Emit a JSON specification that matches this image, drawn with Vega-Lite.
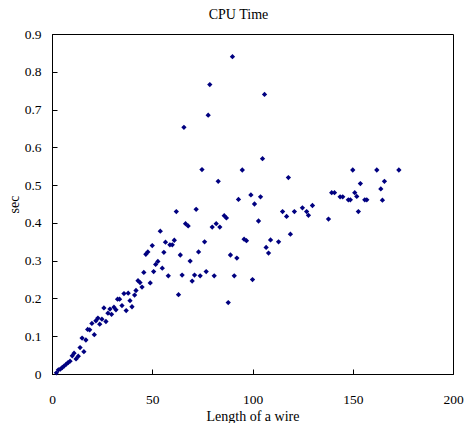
{
  "$schema": "https://vega.github.io/schema/vega-lite/v6.json",
  "autosize": {"type": "none"},
  "width": 401,
  "height": 340,
  "padding": {"left": 52, "top": 34, "right": 12, "bottom": 49},
  "background": "white",
  "config": {
    "font": "Liberation Serif",
    "view": {"stroke": "#000000", "strokeWidth": 1},
    "axis": {"grid": false, "domainColor": "#000000", "tickColor": "#000000", "labelColor": "#000000", "titleColor": "#000000", "labelFont": "Liberation Serif", "titleFont": "Liberation Serif", "labelFontSize": 13.5, "titleFontSize": 14, "titleFontWeight": "normal", "tickSize": -5, "labelFlush": false}
  },
  "title": {"text": "CPU Time", "font": "Liberation Serif", "fontSize": 14, "fontWeight": "normal", "color": "#000000", "offset": 5, "dx": -14},
  "data": {"values": [
    {"x": 90, "y": 0.84}, {"x": 78.7, "y": 0.766}, {"x": 106, "y": 0.74}, {"x": 77.9, "y": 0.685}, {"x": 65.8, "y": 0.653},
    {"x": 105, "y": 0.57}, {"x": 74.8, "y": 0.541}, {"x": 94.9, "y": 0.54}, {"x": 82.9, "y": 0.51}, {"x": 117.9, "y": 0.52},
    {"x": 150, "y": 0.54}, {"x": 162, "y": 0.54}, {"x": 173, "y": 0.54}, {"x": 153.8, "y": 0.504}, {"x": 165.8, "y": 0.51},
    {"x": 164, "y": 0.49}, {"x": 164.8, "y": 0.46}, {"x": 139.5, "y": 0.48}, {"x": 140.9, "y": 0.48}, {"x": 143.7, "y": 0.469},
    {"x": 145, "y": 0.469}, {"x": 147.8, "y": 0.461}, {"x": 148.8, "y": 0.461}, {"x": 151, "y": 0.48}, {"x": 152, "y": 0.47},
    {"x": 152.8, "y": 0.43}, {"x": 156, "y": 0.461}, {"x": 157, "y": 0.461}, {"x": 137.9, "y": 0.41}, {"x": 129.9, "y": 0.446},
    {"x": 124.9, "y": 0.44}, {"x": 127, "y": 0.43}, {"x": 127.9, "y": 0.42}, {"x": 120.9, "y": 0.43}, {"x": 115, "y": 0.43},
    {"x": 117, "y": 0.417}, {"x": 118.9, "y": 0.37}, {"x": 113, "y": 0.35}, {"x": 109, "y": 0.355}, {"x": 106.8, "y": 0.335},
    {"x": 108, "y": 0.32}, {"x": 103, "y": 0.405}, {"x": 104, "y": 0.469}, {"x": 101, "y": 0.45}, {"x": 99.2, "y": 0.474},
    {"x": 93, "y": 0.462}, {"x": 95.8, "y": 0.357}, {"x": 97, "y": 0.353}, {"x": 92.2, "y": 0.307}, {"x": 89, "y": 0.315},
    {"x": 90.9, "y": 0.26}, {"x": 87.9, "y": 0.189}, {"x": 100, "y": 0.25}, {"x": 85.9, "y": 0.419}, {"x": 87, "y": 0.413},
    {"x": 83.7, "y": 0.389}, {"x": 81.9, "y": 0.398}, {"x": 79.9, "y": 0.389}, {"x": 80.9, "y": 0.26}, {"x": 76.9, "y": 0.271},
    {"x": 76.1, "y": 0.35}, {"x": 73.1, "y": 0.323}, {"x": 73.9, "y": 0.26}, {"x": 71.1, "y": 0.262}, {"x": 69.9, "y": 0.246},
    {"x": 68.9, "y": 0.299}, {"x": 71.9, "y": 0.436}, {"x": 66.6, "y": 0.398}, {"x": 67.9, "y": 0.392}, {"x": 62, "y": 0.43},
    {"x": 64, "y": 0.315}, {"x": 64.9, "y": 0.262}, {"x": 63.1, "y": 0.21}, {"x": 61, "y": 0.354}, {"x": 60, "y": 0.342},
    {"x": 58.8, "y": 0.342}, {"x": 56.6, "y": 0.349}, {"x": 58, "y": 0.26}, {"x": 55.8, "y": 0.322}, {"x": 55, "y": 0.28},
    {"x": 54, "y": 0.378}, {"x": 52.8, "y": 0.298}, {"x": 51.7, "y": 0.29}, {"x": 50.7, "y": 0.271}, {"x": 50, "y": 0.34},
    {"x": 47.8, "y": 0.323}, {"x": 46.8, "y": 0.317}, {"x": 49, "y": 0.241}, {"x": 45.8, "y": 0.269}, {"x": 44.9, "y": 0.23},
    {"x": 43.9, "y": 0.242}, {"x": 42.9, "y": 0.247}, {"x": 41.9, "y": 0.221}, {"x": 41.2, "y": 0.209}, {"x": 39.9, "y": 0.178},
    {"x": 38.9, "y": 0.194}, {"x": 38, "y": 0.214}, {"x": 35.9, "y": 0.213}, {"x": 37, "y": 0.168}, {"x": 34.9, "y": 0.181},
    {"x": 33.7, "y": 0.198}, {"x": 32.7, "y": 0.198}, {"x": 31.9, "y": 0.17}, {"x": 30.9, "y": 0.177}, {"x": 29.7, "y": 0.158},
    {"x": 28.9, "y": 0.172}, {"x": 27.9, "y": 0.161}, {"x": 26.9, "y": 0.139}, {"x": 25.9, "y": 0.175}, {"x": 24.9, "y": 0.145},
    {"x": 23.8, "y": 0.132}, {"x": 22.9, "y": 0.148}, {"x": 21.9, "y": 0.141}, {"x": 21.1, "y": 0.104}, {"x": 19.9, "y": 0.134},
    {"x": 18.8, "y": 0.117}, {"x": 17.8, "y": 0.118}, {"x": 16.9, "y": 0.09}, {"x": 15.9, "y": 0.059}, {"x": 15, "y": 0.095},
    {"x": 14, "y": 0.07}, {"x": 13.1, "y": 0.047}, {"x": 12, "y": 0.04}, {"x": 11, "y": 0.055}, {"x": 10.1, "y": 0.048},
    {"x": 9, "y": 0.034}, {"x": 8, "y": 0.03}, {"x": 7.1, "y": 0.026}, {"x": 6, "y": 0.021}, {"x": 5.1, "y": 0.017},
    {"x": 4.2, "y": 0.013}, {"x": 3.2, "y": 0.011}, {"x": 2.2, "y": 0.003}
  ]},
  "mark": {"type": "point", "shape": "diamond", "filled": true, "color": "#000080", "opacity": 1, "size": 28},
  "encoding": {
    "x": {"field": "x", "type": "quantitative", "title": "Length of a wire", "scale": {"domain": [0, 200], "nice": false}, "axis": {"values": [0, 50, 100, 150, 200], "labelPadding": 23, "titlePadding": 4}},
    "y": {"field": "y", "type": "quantitative", "title": "sec", "scale": {"domain": [0, 0.9], "nice": false}, "axis": {"values": [0, 0.1, 0.2, 0.3, 0.4, 0.5, 0.6, 0.7, 0.8, 0.9], "format": ".1~f", "labelPadding": 16, "titlePadding": 3}}
  }
}
